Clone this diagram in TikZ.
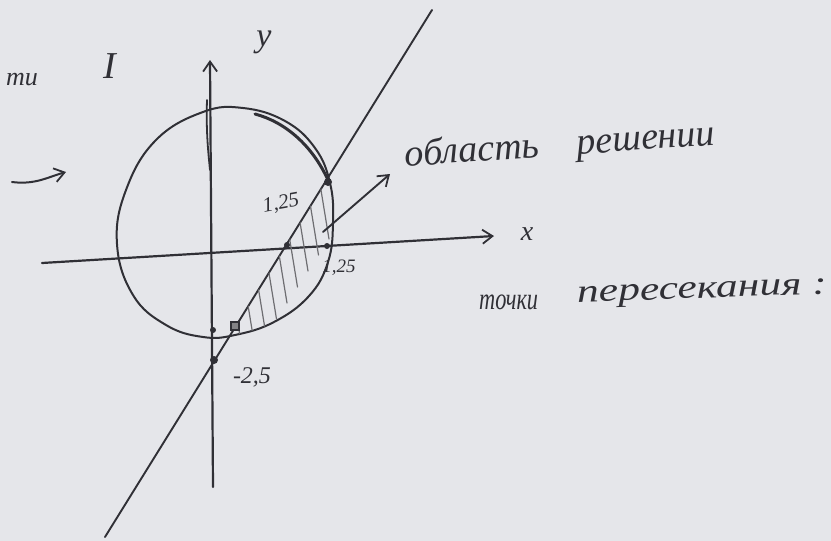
\documentclass[tikz,border=0pt]{standalone}
\usepackage{fontspec}
\setmainfont{Liberation Serif}
\usetikzlibrary{arrows.meta}
\definecolor{paper}{RGB}{229,230,234}
\definecolor{ink}{RGB}{48,48,54}
\begin{document}
\begin{tikzpicture}[x=1pt,y=-1pt,
  pen/.style={draw=ink,line width=2.2pt,line cap=round,line join=round},
  tip/.style={-{Straight Barb[length=10pt,width=14pt,line width=1.8pt]}},
  hand/.style={text=ink,font=\itshape,inner sep=0pt},
  dotpt/.style={circle,fill=ink,inner sep=0pt,minimum size=8pt},
  hatch/.style={draw=ink!70,line width=1.2pt,line cap=round}]
\fill[paper] (0,0) rectangle (831,541);
\useasboundingbox (0,0) rectangle (831,541);

% axes
\coordinate (ybot) at (213,487);
\coordinate (ytop) at (210,60);
\coordinate (xl) at (42,263);
\coordinate (xr) at (494,236);
\draw[pen,tip] (ybot) -- (ytop);
\draw[pen,tip] (xl) -- (xr);
\draw[pen,line width=1.8pt] (207,100) .. controls (206,130) and (208,150) .. (210,170);

% circle
\def\circpath{plot[smooth cycle,tension=0.7] coordinates {(117,244) (126,190) (156,140) (203,112) (243,108) (285,121) (315,148) (330,183) (333,222) (328,262) (309,296) (274,322) (235,335) (203,337) (166,325) (133,295)}}
\draw[pen,line width=2pt] \circpath;
\draw[pen,line width=3pt] (255,114) .. controls (285,122) and (312,145) .. (328,180);

% line
\coordinate (lnA) at (105,537);
\coordinate (lnB) at (432,10);
\draw[pen,line width=1.9pt] (lnA) -- (lnB);

% hatched region
\begin{scope}
  \clip \circpath;
  \clip (lnA) -- (lnB) -- (831,10) -- (831,541) -- cycle;
  \foreach \s in {0,...,9} {
    \draw[hatch] (236+\s*10.5,312-\s*16) -- ++(9,55);
  }
\end{scope}

% points
\node[dotpt] (pU) at (328,182) {};
\node[dotpt,minimum size=6pt] (pX) at (287,245) {};
\node[dotpt,minimum size=6pt] (pR) at (327,246) {};
\node[dotpt,minimum size=6pt] (pB) at (213,330) {};
\node[draw=ink,fill=ink!60,line width=1.4pt,inner sep=0pt,minimum size=8pt] (pL) at (235,326) {};
\node[dotpt] (pY) at (214,360) {};

% solution arrow
\coordinate (aS) at (323,232);
\coordinate (aE) at (390,174);
\draw[pen,tip,line width=1.9pt] (aS) -- (aE);

% left arrow
\coordinate (lA) at (12,182);
\coordinate (lB) at (66,172);
\draw[pen,tip,line width=2pt] (lA) .. controls (35,185) and (48,177) .. (lB);

% labels
\node[hand,font=\itshape\fontsize{34}{36}\selectfont] (ylab) at (264,42) {y};
\node[hand,font=\itshape\fontsize{28}{30}\selectfont] (xlab) at (527,234) {x};
\node[hand,font=\itshape\fontsize{38}{40}\selectfont] (rom) at (110,66) {I};
\node[hand,font=\itshape\fontsize{26}{28}\selectfont] (ti) at (22,80) {ти};
\node[hand,font=\itshape\fontsize{21}{22}\selectfont,rotate=10] (l1) at (281,204) {1,25};
\node[hand,font=\itshape\fontsize{19}{20}\selectfont] (l2) at (339,268) {1,25};
\node[hand,font=\itshape\fontsize{24}{26}\selectfont] (l3) at (252,377) {-2,5};
\node[hand,font=\itshape\fontsize{38}{40}\selectfont,anchor=west,rotate=4] (obl) at (405,157) {область\quad решении};
\node[hand,font=\itshape\fontsize{31}{33}\selectfont,anchor=west,xscale=0.72] (toch) at (479,302) {точки};
\node[hand,font=\itshape\fontsize{33}{35}\selectfont,anchor=west,rotate=2,xscale=1.32] (per) at (577,298) {пересекания :};
\end{tikzpicture}
\end{document}
